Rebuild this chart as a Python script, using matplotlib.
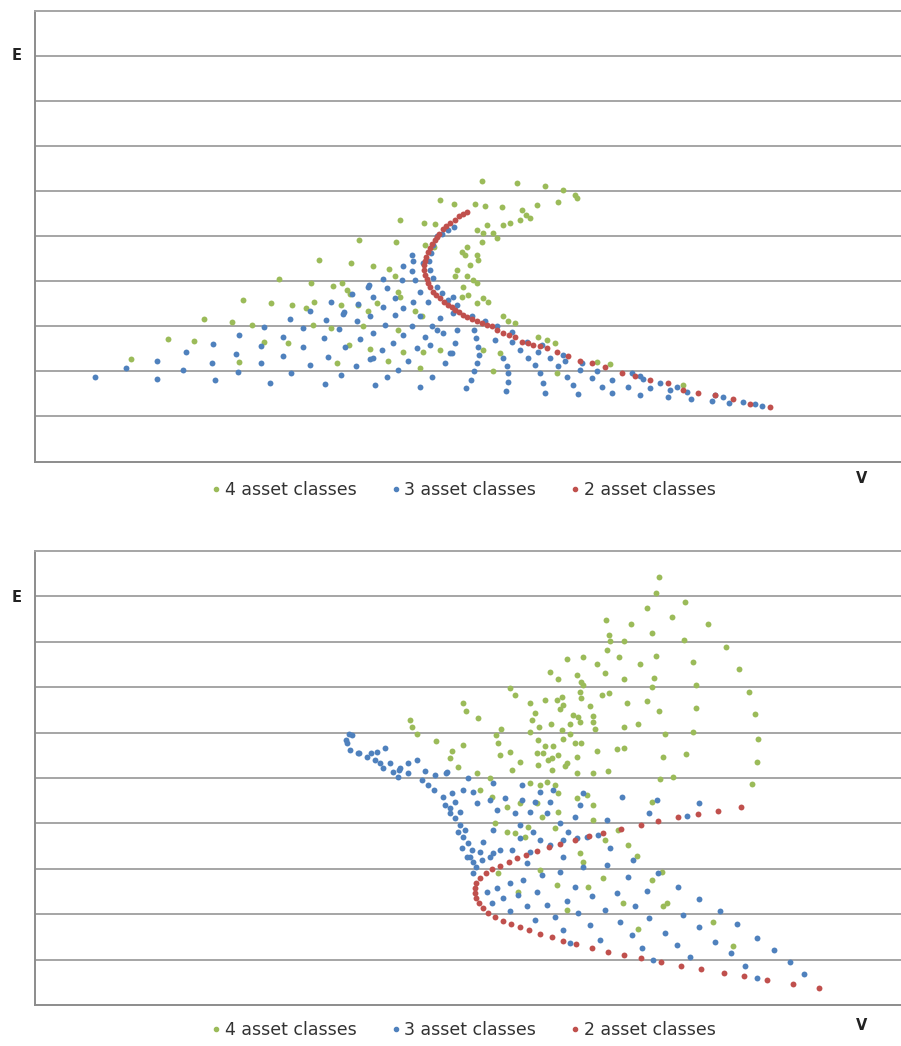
"""
Two E-V scatter charts: portfolios built from 4, 3 and 2 asset classes
"""

import numpy as np
import matplotlib
matplotlib.use("Agg")
import matplotlib.pyplot as plt
from matplotlib.lines import Line2D

GREEN = "#9BBB59"
BLUE = "#4F81BD"
RED = "#C0504D"

LABELS = ["4 asset classes", "3 asset classes", "2 asset classes"]

# ---- upper chart: (V, E) pairs ----
TOP_4 = np.array([
    [0.96, 2.28], [1.33, 2.71], [1.59, 2.67], [1.69, 3.17], [1.97, 3.09], [2.08, 3.59],
    [2.17, 3.02], [2.36, 3.52], [2.44, 4.06], [2.04, 2.20], [2.29, 2.66],
    [4.05, 5.80], [3.89, 5.29], [3.65, 5.37], [3.24, 4.91], [3.61, 4.87], [2.84, 4.48],
    [3.16, 4.40], [3.38, 4.33], [3.54, 4.28], [3.60, 4.11], [2.76, 3.96], [2.98, 3.90],
    [3.07, 3.96], [3.12, 3.81], [3.15, 3.72], [3.63, 3.77], [3.65, 3.66], [2.57, 3.48],
    [2.71, 3.40], [2.79, 3.55], [3.06, 3.48], [3.23, 3.48], [3.33, 3.33], [3.42, 3.52],
    [3.80, 3.33], [3.87, 3.22], [2.78, 3.03], [2.96, 2.96], [3.28, 3.01], [3.63, 2.92],
    [2.53, 2.63], [3.14, 2.59], [3.35, 2.50], [3.68, 2.44], [3.88, 2.43], [4.05, 2.48],
    [3.02, 2.18], [3.53, 2.23], [3.85, 2.07], [3.90, 4.80], [3.99, 4.77], [4.00, 5.27],
    [4.47, 6.22], [4.82, 6.18], [5.10, 6.11], [5.28, 6.03], [5.40, 5.92], [5.42, 5.85],
    [5.23, 5.76], [5.02, 5.70], [4.87, 5.59], [4.91, 5.48], [4.95, 5.40], [4.85, 5.37],
    [4.75, 5.29], [4.68, 5.26], [4.67, 5.65], [4.50, 5.68], [4.40, 5.72], [4.19, 5.72],
    [4.52, 5.26], [4.42, 5.14], [4.48, 5.07], [4.58, 5.07], [4.62, 4.96], [4.47, 4.88],
    [4.32, 4.77], [4.27, 4.66], [4.30, 4.59], [4.42, 4.59], [4.43, 4.48], [4.35, 4.37],
    [4.22, 4.26], [4.20, 4.11], [4.32, 4.11], [4.38, 4.03], [4.42, 3.96], [4.28, 3.88],
    [4.27, 3.66], [4.33, 3.70], [4.48, 3.63], [4.53, 3.55], [4.42, 3.52], [4.68, 3.22],
    [4.73, 3.11], [4.80, 3.07], [5.03, 2.77], [5.12, 2.70], [5.20, 2.63], [4.48, 2.48],
    [4.65, 2.40], [4.58, 2.00], [5.22, 1.96], [5.62, 2.20], [5.75, 2.17], [6.48, 1.70],
])

TOP_3 = np.array([
    [0.60, 1.88], [1.22, 1.83], [1.80, 1.80], [2.35, 1.75], [2.90, 1.72],
    [0.91, 2.07], [1.48, 2.03], [2.03, 1.99], [2.56, 1.96], [3.06, 1.93],
    [1.22, 2.22], [1.77, 2.18], [2.26, 2.18], [2.75, 2.15], [3.21, 2.13],
    [1.51, 2.42], [2.01, 2.38], [2.48, 2.35], [2.93, 2.33],
    [1.78, 2.61], [2.26, 2.57], [2.68, 2.54], [3.10, 2.54],
    [2.04, 2.80], [2.48, 2.77], [2.89, 2.74], [3.25, 2.72],
    [2.29, 2.98], [2.68, 2.97], [3.04, 2.94],
    [2.55, 3.17], [2.91, 3.13], [3.22, 3.12],
    [2.75, 3.35], [3.09, 3.32], [2.96, 3.54], [3.23, 3.50], [3.17, 3.71], [3.34, 3.91],
    [3.33, 3.88], [3.08, 3.28], [3.35, 3.22], [3.50, 3.03], [3.38, 2.85], [3.35, 2.27],
    [3.78, 4.44], [3.68, 4.33], [3.77, 4.22], [3.67, 4.03], [3.80, 4.03], [3.48, 4.05],
    [3.52, 3.85], [3.60, 3.63], [3.38, 3.66], [3.48, 3.44], [3.68, 3.40], [3.78, 3.55],
    [3.85, 3.77], [3.93, 3.55], [3.85, 3.22], [3.60, 3.26], [3.77, 3.00], [3.68, 2.81],
    [3.97, 3.00], [4.05, 3.18], [3.90, 2.77], [4.02, 2.92], [4.08, 2.85], [3.58, 2.63],
    [3.95, 2.59], [3.47, 2.48], [3.82, 2.52], [4.15, 2.40], [3.73, 2.24], [4.10, 2.18],
    [3.38, 2.29], [3.63, 2.03], [3.97, 1.88], [3.52, 1.88], [3.85, 1.66], [3.40, 1.70],
    [3.77, 4.59], [3.88, 4.40],
    [4.19, 5.21], [4.13, 5.14], [4.07, 5.06], [4.02, 5.00], [3.98, 4.81], [3.96, 4.63],
    [3.94, 4.44], [3.95, 4.26], [3.98, 4.07], [4.02, 3.88], [4.07, 3.74], [4.13, 3.59],
    [4.22, 3.48], [4.37, 3.22], [4.50, 3.11], [4.62, 3.00], [4.77, 2.88], [4.92, 2.66],
    [5.07, 2.59], [5.28, 2.37], [5.47, 2.18],
    [4.18, 3.29], [4.22, 2.92], [4.20, 2.63], [4.17, 2.40], [4.39, 2.92], [4.41, 2.74],
    [4.43, 2.55], [4.44, 2.37], [4.42, 2.18], [4.39, 2.00], [4.36, 1.81], [4.31, 1.63],
    [4.60, 2.70], [4.68, 2.29], [4.72, 2.11], [4.73, 1.96], [4.73, 1.77], [4.71, 1.57],
    [4.77, 2.66], [4.85, 2.48], [4.93, 2.29], [5.00, 2.14], [5.05, 1.96], [5.08, 1.74],
    [5.10, 1.53], [5.03, 2.44], [5.15, 2.29], [5.23, 2.11], [5.32, 1.88], [5.38, 1.70],
    [5.43, 1.50], [5.30, 2.22], [5.45, 2.03], [5.57, 1.85], [5.67, 1.66], [5.77, 1.52],
    [5.62, 2.00], [5.77, 1.81], [5.93, 1.66], [6.05, 1.48], [4.20, 3.37], [4.18, 3.66],
    [6.15, 1.63], [6.25, 1.74], [6.33, 1.44], [6.35, 1.59], [6.42, 1.66], [6.52, 1.55],
    [6.56, 1.39], [6.77, 1.35], [6.80, 1.48], [6.88, 1.44], [6.94, 1.29], [7.08, 1.31],
    [7.20, 1.28], [7.27, 1.23], [5.97, 1.96], [6.05, 1.90], [6.08, 1.83],
])

TOP_2 = np.array([
    [4.32, 5.54], [4.28, 5.49], [4.24, 5.44], [4.20, 5.37], [4.15, 5.30], [4.11, 5.23],
    [4.08, 5.17], [4.04, 5.06], [4.02, 4.99], [4.00, 4.92], [3.97, 4.83], [3.95, 4.74],
    [3.93, 4.65], [3.91, 4.55], [3.90, 4.46], [3.89, 4.37], [3.89, 4.26], [3.90, 4.14],
    [3.92, 4.04], [3.93, 3.96], [3.95, 3.87], [3.98, 3.77], [4.01, 3.70], [4.05, 3.63],
    [4.09, 3.55], [4.13, 3.48], [4.17, 3.42], [4.20, 3.37], [4.24, 3.31], [4.28, 3.26],
    [4.32, 3.21], [4.37, 3.16], [4.42, 3.11], [4.47, 3.07], [4.52, 3.03], [4.57, 3.00],
    [4.62, 2.93], [4.68, 2.85], [4.74, 2.81], [4.80, 2.77], [4.87, 2.66], [4.93, 2.62],
    [4.98, 2.59], [5.05, 2.56], [5.12, 2.52], [5.22, 2.42], [5.33, 2.34], [5.45, 2.24],
    [5.57, 2.18], [5.70, 2.09], [5.87, 1.96], [6.00, 1.90], [6.15, 1.81], [6.33, 1.74],
    [6.48, 1.59], [6.63, 1.53], [6.80, 1.48], [6.98, 1.38], [7.15, 1.28], [7.35, 1.20],
])

# ---- lower chart ----
BOTTOM_4 = np.array([
    [3.75, 6.28], [3.77, 6.13], [3.82, 5.97], [4.01, 5.82], [4.28, 6.65], [4.31, 6.48],
    [4.43, 6.32], [4.17, 5.59], [4.15, 5.43], [4.23, 5.25], [4.28, 5.73], [4.42, 5.10],
    [4.61, 5.95], [4.63, 5.78], [4.66, 6.09], [4.65, 5.51], [4.75, 5.58], [4.75, 6.98],
    [4.80, 6.83], [4.77, 5.18], [4.85, 5.36], [4.95, 6.66], [5.10, 6.72], [4.95, 6.02],
    [4.97, 6.28], [5.00, 6.43], [5.04, 6.13], [5.03, 5.84], [5.10, 5.70], [5.18, 5.70],
    [5.02, 5.54], [5.08, 5.54], [5.17, 5.43], [5.03, 5.29], [5.13, 5.40], [5.15, 7.34],
    [5.23, 7.17], [5.32, 7.62], [5.16, 6.20], [5.22, 6.72], [5.27, 6.79], [5.28, 6.61],
    [5.25, 6.52], [5.35, 6.20], [5.43, 6.35], [5.38, 6.39], [5.28, 5.87], [5.27, 6.06],
    [5.35, 5.98], [5.40, 5.76], [5.42, 5.47], [5.23, 5.51], [5.32, 5.32],
    [6.24, 9.43], [6.21, 9.08], [6.50, 8.88], [6.12, 8.74], [6.37, 8.54], [6.73, 8.39],
    [5.71, 8.48], [5.96, 8.39], [6.17, 8.20], [5.74, 8.16], [5.75, 8.02], [5.89, 8.02],
    [6.49, 8.05], [6.91, 7.88], [5.72, 7.82], [5.84, 7.66], [6.21, 7.69], [5.48, 7.66],
    [5.62, 7.51], [6.05, 7.51], [6.58, 7.55], [7.04, 7.39], [5.42, 7.27], [5.70, 7.32],
    [5.89, 7.17], [6.19, 7.21], [5.46, 7.12], [5.48, 7.05], [6.17, 7.01], [6.61, 7.05],
    [5.45, 6.90], [5.46, 6.76], [5.67, 6.83], [5.74, 6.87], [7.14, 6.90], [5.55, 6.59],
    [5.92, 6.66], [6.12, 6.70], [6.24, 6.48], [6.61, 6.55], [7.20, 6.40], [5.58, 6.37],
    [5.45, 6.24], [5.58, 6.24], [6.03, 6.20], [5.89, 6.13], [5.60, 6.09], [6.30, 5.98],
    [6.58, 6.02], [7.23, 5.86], [5.46, 5.78], [5.62, 5.59], [5.82, 5.63], [5.89, 5.67],
    [6.28, 5.47], [6.51, 5.52], [7.22, 5.36], [5.73, 5.15],
    [4.55, 4.99], [4.95, 4.88], [5.05, 4.85], [5.12, 4.92], [5.20, 4.85], [4.45, 4.74],
    [4.57, 4.59], [4.72, 4.37], [4.85, 4.44], [5.02, 4.44], [5.07, 4.15], [5.23, 4.26],
    [5.23, 4.66], [5.42, 4.55], [5.52, 4.63], [5.58, 4.41], [5.58, 4.07], [4.60, 4.00],
    [4.72, 3.82], [4.80, 3.78], [4.90, 3.71], [4.93, 3.93], [5.20, 3.89], [5.45, 3.34],
    [5.48, 3.16], [5.68, 2.79], [5.93, 3.52], [5.70, 3.63], [5.83, 3.85], [5.22, 2.64],
    [5.32, 2.09], [5.53, 2.61], [5.88, 2.24], [4.83, 2.50], [4.63, 2.90], [5.05, 2.97],
    [5.17, 5.18], [5.30, 5.26], [5.42, 5.10], [5.58, 5.10],
    [6.25, 4.98], [6.38, 5.02], [6.17, 4.48], [7.17, 4.87], [6.02, 3.28], [6.17, 2.75],
    [6.27, 2.94], [6.28, 2.18], [6.32, 2.25], [6.78, 1.82], [6.03, 1.67], [6.98, 1.30],
])

BOTTOM_3 = np.array([
    [3.14, 5.96], [3.11, 5.83], [3.17, 5.95], [3.12, 5.76], [3.15, 5.62], [3.23, 5.54],
    [3.32, 5.47], [3.42, 5.58], [3.40, 5.40], [3.45, 5.32], [3.50, 5.65], [3.48, 5.21],
    [3.55, 5.32], [3.58, 5.14], [3.65, 5.21], [3.73, 5.32], [3.82, 5.40], [3.63, 5.03],
    [3.90, 5.16], [4.00, 5.07], [4.12, 5.14], [4.33, 4.99], [3.73, 5.10], [3.87, 4.96],
    [3.93, 4.85], [3.99, 4.73], [3.64, 5.17], [3.24, 5.54], [3.36, 5.54],
    [4.11, 5.10], [4.08, 4.59], [4.17, 4.66], [4.20, 4.48], [4.15, 4.33], [4.25, 4.26],
    [4.28, 4.74], [4.38, 4.70], [4.42, 4.44], [4.55, 4.52], [4.58, 4.88], [4.62, 4.30],
    [4.70, 4.55], [4.80, 4.22], [4.87, 4.85], [4.87, 4.52], [4.95, 4.26], [5.00, 4.48],
    [5.05, 4.70], [5.12, 4.22], [5.15, 4.48], [5.18, 4.74], [5.25, 4.00], [5.33, 3.82],
    [5.40, 4.15], [5.48, 4.66], [5.45, 4.41], [5.87, 4.59], [5.72, 4.07], [5.63, 3.74],
    [5.52, 3.71], [5.42, 3.67], [5.75, 3.45], [5.98, 3.19], [5.72, 3.08], [5.48, 3.05],
    [5.28, 3.27], [5.25, 2.94], [5.07, 2.86], [4.92, 3.12], [4.88, 2.75], [5.02, 2.50],
    [4.75, 2.68], [4.62, 2.57], [4.52, 2.50], [4.68, 2.35], [4.57, 2.24], [4.83, 2.42],
    [4.92, 2.17], [4.75, 2.06], [5.12, 2.20], [5.20, 1.94], [5.32, 2.28], [5.40, 2.61],
    [5.57, 2.39], [5.43, 2.02], [5.70, 2.09], [5.82, 2.46], [5.93, 2.83], [5.00, 1.87],
    [5.28, 1.65], [5.55, 1.76], [5.85, 1.83], [5.65, 1.43], [5.97, 1.54], [5.35, 1.37],
    [4.65, 3.41], [4.77, 3.41], [5.05, 3.63], [4.95, 3.38], [5.15, 3.52], [5.28, 3.63],
    [4.48, 3.60], [4.55, 3.27], [4.47, 3.19], [4.58, 3.34], [4.58, 3.85], [4.85, 3.96],
    [4.98, 3.82], [4.85, 3.67],
    [4.10, 4.41], [4.15, 4.22], [4.20, 4.11], [4.25, 3.96], [4.30, 3.85], [4.28, 3.71],
    [4.33, 3.56], [4.37, 3.41], [4.35, 3.27], [4.38, 3.16], [4.41, 3.05], [4.38, 2.90],
    [4.23, 3.82], [4.27, 3.45], [4.32, 3.27], [4.45, 3.38],
    [6.22, 4.52], [6.64, 4.44], [6.14, 4.24], [6.52, 4.17], [6.23, 2.90], [6.43, 2.59],
    [6.64, 2.33], [6.12, 2.52], [6.00, 2.18], [6.48, 1.98], [6.85, 2.06], [6.14, 1.91],
    [6.64, 1.72], [7.02, 1.78], [6.30, 1.59], [6.80, 1.39], [7.22, 1.47], [6.42, 1.32],
    [6.07, 1.25], [6.96, 1.14], [7.39, 1.21], [6.55, 1.05], [6.18, 0.99], [7.55, 0.94],
    [7.10, 0.87], [7.22, 0.60], [7.69, 0.68],
])

BOTTOM_2 = np.array([
    [7.06, 4.37], [6.83, 4.28], [6.63, 4.20], [6.43, 4.13], [6.23, 4.06], [6.06, 3.96],
    [5.86, 3.87], [5.68, 3.78], [5.54, 3.72], [5.40, 3.63], [5.25, 3.54], [5.14, 3.47],
    [5.02, 3.40], [4.91, 3.30], [4.82, 3.23], [4.74, 3.14], [4.65, 3.06], [4.57, 2.99],
    [4.51, 2.90], [4.45, 2.79], [4.41, 2.68], [4.40, 2.57], [4.40, 2.46], [4.41, 2.35],
    [4.44, 2.24], [4.48, 2.13], [4.53, 2.02], [4.60, 1.93], [4.68, 1.86], [4.76, 1.78],
    [4.85, 1.72], [4.94, 1.65], [5.05, 1.56], [5.17, 1.49], [5.28, 1.42], [5.41, 1.34],
    [5.57, 1.25], [5.73, 1.17], [5.89, 1.10], [6.06, 1.03], [6.26, 0.94], [6.46, 0.86],
    [6.66, 0.79], [6.89, 0.71], [7.09, 0.64], [7.32, 0.56], [7.58, 0.46], [7.84, 0.37],
])

FIG_W, FIG_H = 901, 1046


def setup_axes(ax):
    """Excel-like look: horizontal grid, grey left/bottom axis, no tick labels."""
    ax.set_xlim(0, 8.66)
    ax.set_ylim(0, 10)
    ax.set_xticks([])
    ax.set_yticks(range(1, 10))
    ax.tick_params(left=False, labelleft=False)
    ax.yaxis.grid(True, color="#A5A5A5", linewidth=1.4)
    ax.set_axisbelow(True)
    ax.spines["right"].set_visible(False)
    ax.spines["top"].set_color("#A5A5A5")
    ax.spines["top"].set_linewidth(1.4)
    for side in ("left", "bottom"):
        ax.spines[side].set_color("#8C8C8C")
        ax.spines[side].set_linewidth(1.4)


def draw_panel(fig, top_px, bottom_px, series, legend_y, e_y, v_y):
    """One chart with its legend and the E / V axis letters."""
    left = 35 / FIG_W
    ax = fig.add_axes([left, 1 - bottom_px / FIG_H, 1 - left, (bottom_px - top_px) / FIG_H])
    setup_axes(ax)

    for data, color in zip(series, (GREEN, BLUE, RED)):
        ax.scatter(data[:, 0], data[:, 1], s=18, color=color, linewidths=0, zorder=3)

    handles = [Line2D([], [], marker="o", linestyle="", markersize=3, color=c)
               for c in (GREEN, BLUE, RED)]
    fig.legend(handles, LABELS, loc="center", bbox_to_anchor=(463 / FIG_W, 1 - legend_y / FIG_H),
               ncol=3, frameon=False, prop={"family": "DejaVu Sans", "size": 12.5},
               handletextpad=0.15, handlelength=0.7, columnspacing=1.9,
               labelcolor="#333333")

    fig.text(17 / FIG_W, 1 - e_y / FIG_H, "E", ha="center", va="center",
             fontsize=10.5, fontweight="bold", color="#222222")
    fig.text(862 / FIG_W, 1 - v_y / FIG_H, "V", ha="center", va="center",
             fontsize=10.5, fontweight="bold", color="#222222")


def main():
    plt.rcParams["font.family"] = ["DejaVu Sans"]
    fig = plt.figure(figsize=(FIG_W / 100, FIG_H / 100), dpi=100)

    draw_panel(fig, 11, 461.5, (TOP_4, TOP_3, TOP_2), legend_y=490, e_y=55, v_y=479)
    draw_panel(fig, 551, 1005, (BOTTOM_4, BOTTOM_3, BOTTOM_2), legend_y=1030, e_y=597, v_y=1025)

    fig.savefig("out.png", dpi=100, facecolor="white")


if __name__ == "__main__":
    main()
